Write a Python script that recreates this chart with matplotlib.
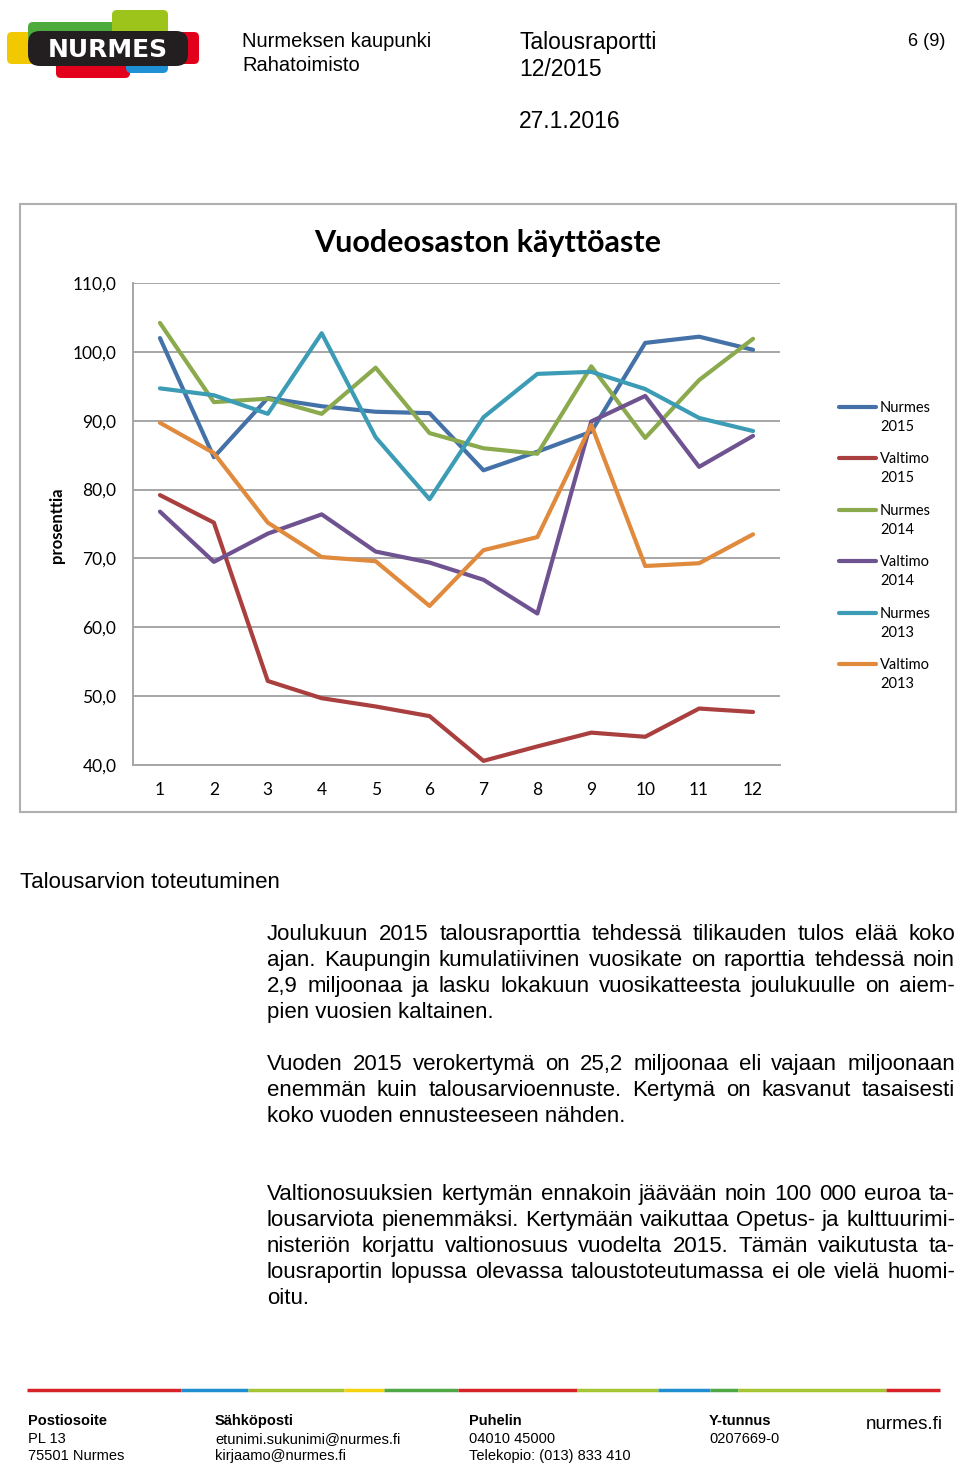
import matplotlib
matplotlib.use("Agg")
import matplotlib.pyplot as plt
from matplotlib.patches import FancyBboxPatch, Rectangle
from matplotlib.lines import Line2D
from matplotlib.ticker import FuncFormatter

# chart data: bed ward occupancy (%) by month
months = list(range(1, 13))
nurmes_2015 = [102.0, 84.7, 93.3, 92.1, 91.3, 91.1, 82.8, 85.5, 88.4, 101.3, 102.2, 100.3]
valtimo_2015 = [79.2, 75.2, 52.2, 49.7, 48.5, 47.1, 40.6, 42.7, 44.7, 44.1, 48.2, 47.7]
nurmes_2014 = [104.2, 92.7, 93.2, 91.0, 97.7, 88.2, 86.0, 85.2, 97.9, 87.5, 95.9, 101.9]
valtimo_2014 = [76.8, 69.5, 73.6, 76.4, 71.0, 69.4, 66.9, 62.0, 89.9, 93.6, 83.3, 87.8]
nurmes_2013 = [94.7, 93.7, 91.0, 102.7, 87.6, 78.6, 90.5, 96.8, 97.1, 94.6, 90.4, 88.5]
valtimo_2013 = [89.7, 85.3, 75.2, 70.2, 69.6, 63.1, 71.2, 73.1, 89.4, 68.9, 69.3, 73.5]

series_labels = ["Nurmes\n2015", "Valtimo\n2015", "Nurmes\n2014",
                 "Valtimo\n2014", "Nurmes\n2013", "Valtimo\n2013"]
series_values = [nurmes_2015, valtimo_2015, nurmes_2014, valtimo_2014, nurmes_2013, valtimo_2013]
series_colors = ["#4472A8", "#A9403F", "#8BAA4D", "#6F5391", "#3C9CB6", "#E08A3E"]
y_ticks = [40, 50, 60, 70, 80, 90, 100, 110]

para1 = ["Joulukuun 2015 talousraporttia tehdessä tilikauden tulos elää koko",
         "ajan. Kaupungin kumulatiivinen vuosikate on raporttia tehdessä noin",
         "2,9 miljoonaa ja lasku lokakuun vuosikatteesta joulukuulle on aiem-",
         "pien vuosien kaltainen."]
para2 = ["Vuoden 2015 verokertymä on 25,2 miljoonaa eli vajaan miljoonaan",
         "enemmän kuin talousarvioennuste. Kertymä on kasvanut tasaisesti",
         "koko vuoden ennusteeseen nähden."]
para3 = ["Valtionosuuksien kertymän ennakoin jäävään noin 100 000 euroa ta-",
         "lousarviota pienemmäksi. Kertymään vaikuttaa Opetus- ja kulttuurimi-",
         "nisteriön korjattu valtionosuus vuodelta 2015. Tämän vaikutusta ta-",
         "lousraportin lopussa olevassa taloustoteutumassa ei ole vielä huomi-",
         "oitu."]

footer_cols = [("Postiosoite", "PL 13", "75501 Nurmes"),
               ("Sähköposti", "etunimi.sukunimi@nurmes.fi", "kirjaamo@nurmes.fi"),
               ("Puhelin", "04010 45000", "Telekopio: (013) 833 410"),
               ("Y-tunnus", "0207669-0", "")]

W, H = 960, 1467
fig = plt.figure(figsize=(W / 100, H / 100), dpi=100)

# page layer in pixel coordinates
page = fig.add_axes([0, 0, 1, 1], zorder=0)
page.set_xlim(0, W)
page.set_ylim(H, 0)
page.axis("off")

body = "Liberation Sans"
chartfont = "Lato"

# logo
def rbox(x0, y0, x1, y1, color, r=5, z=2):
    page.add_patch(FancyBboxPatch((x0 + r, y0 + r), x1 - x0 - 2 * r, y1 - y0 - 2 * r,
                                  boxstyle=f"round,pad={r}", fc=color, ec="none", zorder=z))

rbox(7, 32, 36, 64, "#F2C900")
rbox(28, 22, 116, 42, "#4DAA3C")
rbox(112, 10, 168, 42, "#9DC41A")
rbox(172, 32, 199, 64, "#E2001A")
rbox(56, 54, 130, 78, "#E2001A")
rbox(126, 54, 168, 73, "#1E90D6")
rbox(28, 31, 188, 66, "#231F20", r=12, z=3)
page.text(108, 57, "NURMES", color="white", fontsize=18, fontweight="bold",
          family="DejaVu Sans", ha="center", va="baseline", zorder=4)

# header
page.text(242, 47, "Nurmeksen kaupunki", family=body, fontsize=14.5, va="baseline")
page.text(242, 71, "Rahatoimisto", family=body, fontsize=14.5, va="baseline")
page.text(519, 49, "Talousraportti", family=body, fontsize=16.5, va="baseline")
page.text(519, 76, "12/2015", family=body, fontsize=16.5, va="baseline")
page.text(519, 128, "27.1.2016", family=body, fontsize=16.5, va="baseline")
page.text(945, 46, "6 (9)", family=body, fontsize=13, va="baseline", ha="right")

# chart frame
page.add_patch(Rectangle((20, 204), 936, 608, fc="white", ec="#B0B0B0", lw=1.5, zorder=1))

# chart
ax = fig.add_axes([133 / W, 1 - 765 / H, 647 / W, 482 / H], zorder=2)
for vals, col in zip(series_values, series_colors):
    ax.plot(months, vals, color=col, lw=3, solid_capstyle="round", solid_joinstyle="round")
ax.set_xlim(0.5, 12.5)
ax.set_ylim(40, 110)
ax.set_yticks(y_ticks)
ax.set_xticks(months)
ax.yaxis.set_major_formatter(FuncFormatter(lambda v, p: f"{v:.1f}".replace(".", ",")))
ax.grid(axis="y", color="#A6A6A6", lw=1.4)
ax.set_axisbelow(True)
for s in ["top", "right"]:
    ax.spines[s].set_visible(False)
for s in ["left", "bottom"]:
    ax.spines[s].set_color("#A6A6A6")
    ax.spines[s].set_linewidth(1.4)
ax.tick_params(length=0, labelsize=12.5, pad=12)
for lab in ax.get_xticklabels() + ax.get_yticklabels():
    lab.set_family(chartfont)

page.text(488, 252, "Vuodeosaston käyttöaste", family=chartfont, fontsize=22,
          fontweight="bold", ha="center", va="baseline", zorder=3)
page.text(57, 525, "prosenttia", family=chartfont, fontsize=12, fontweight="bold",
          rotation=90, ha="center", va="center", zorder=3)

# legend
for i, (lab, col) in enumerate(zip(series_labels, series_colors)):
    y = 407 + i * 51.4
    page.add_line(Line2D([839, 876], [y, y], color=col, lw=3, solid_capstyle="round", zorder=3))
    l1, l2 = lab.split("\n")
    page.text(880, y + 5, l1, family=chartfont, fontsize=10.5, va="baseline", zorder=3)
    page.text(880, y + 24, l2, family=chartfont, fontsize=10.5, va="baseline", zorder=3)

# section heading and body text
page.text(20, 888, "Talousarvion toteutuminen", family=body, fontsize=16, va="baseline")

renderer = fig.canvas.get_renderer()

def justify(lines, x0, x1, y0, dy):
    for i, line in enumerate(lines):
        y = y0 + i * dy
        if i == len(lines) - 1:
            page.text(x0, y, line, family=body, fontsize=16, va="baseline")
            continue
        words = line.split(" ")
        ts = [page.text(x0, y, w, family=body, fontsize=16, va="baseline") for w in words]
        ws = [t.get_window_extent(renderer).width for t in ts]
        gap = (x1 - x0 - sum(ws)) / (len(words) - 1)
        x = x0
        for t, w in zip(ts, ws):
            t.set_x(x)
            x += w + gap

justify(para1, 267, 955, 940, 26)
justify(para2, 267, 955, 1070, 26)
justify(para3, 267, 955, 1200, 26)

# footer stripe
stripe = [(27, 181, "#D7222A"), (181, 248, "#1F8FD0"), (248, 344, "#A5C534"),
          (344, 384, "#F5D20E"), (384, 458, "#4FA845"), (458, 577, "#D7222A"),
          (577, 658, "#A5C534"), (658, 710, "#1F8FD0"), (710, 738, "#4FA845"),
          (738, 886, "#A5C534"), (886, 940, "#D7222A")]
for a, b, c in stripe:
    page.add_line(Line2D([a, b], [1390, 1390], color=c, lw=2.5, solid_capstyle="butt"))

for x, col in zip([28, 215, 469, 709], footer_cols):
    page.text(x, 1425, col[0], family=body, fontsize=10.5, fontweight="bold", va="baseline")
    page.text(x, 1443, col[1], family=body, fontsize=10.5, va="baseline")
    page.text(x, 1460, col[2], family=body, fontsize=10.5, va="baseline")
page.text(943, 1429, "nurmes.fi", family=body, fontsize=13.5, ha="right", va="baseline")

fig.savefig("out.png", dpi=100)
